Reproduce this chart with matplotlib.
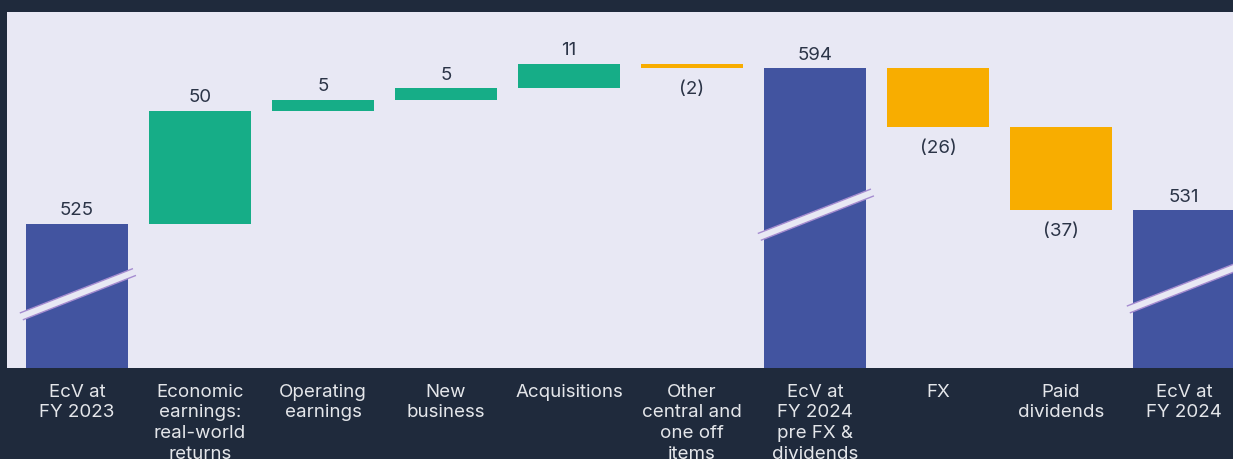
import matplotlib
matplotlib.use("Agg")
import matplotlib.pyplot as plt
from matplotlib.patches import Polygon

plt.rcParams['font.family'] = ['Inter', 'DejaVu Sans']

# Economic value bridge, FY 2023 -> FY 2024
categories = [
    "EcV at\nFY 2023",
    "Economic\nearnings:\nreal-world\nreturns",
    "Operating\nearnings",
    "New\nbusiness",
    "Acquisitions",
    "Other\ncentral and\none off\nitems",
    "EcV at\nFY 2024\npre FX &\ndividends",
    "FX",
    "Paid\ndividends",
    "EcV at\nFY 2024",
]
values = [525, 50, 5, 5, 11, -2, 594, -26, -37, 531]
is_total = [True, False, False, False, False, False, True, False, False, True]
value_labels = ["525", "50", "5", "5", "11", "(2)", "594", "(26)", "(37)", "531"]

DARK = "#1f2a3c"
PANEL = "#e8e8f4"
BLUE = "#4254a0"
GREEN = "#16ad87"
ORANGE = "#f8ad00"
TEXT_DARK = "#2b3447"
TEXT_LIGHT = "#e4e6ea"
BREAK_EDGE = "#a58cd0"
FS = 13.5

W, H = 1233, 460
fig = plt.figure(figsize=(W / 100, H / 100), dpi=100, facecolor=DARK)
ax = fig.add_axes([7 / W, (H - 369) / H, 1226 / W, 356 / H])
ax.set_facecolor(PANEL)

y_bottom, y_top = 461.3, 618.8
ax.set_xlim(-0.569, -0.569 + 1226 / 123)
ax.set_ylim(y_bottom, y_top)

bar_w = 102 / 123
running = 0
bars = []
for i, (v, tot) in enumerate(zip(values, is_total)):
    if tot:
        lo, hi, col = y_bottom, v, BLUE
        running = v
    else:
        start = running
        running = running + v
        lo, hi = min(start, running), max(start, running)
        col = GREEN if v > 0 else ORANGE
    ax.bar(i, hi - lo, bottom=lo, width=bar_w, color=col, zorder=2)
    bars.append((lo, hi))

    if v >= 0:
        ax.annotate(value_labels[i], (i, hi), xytext=(0, 4), textcoords="offset points",
                    ha="center", va="bottom", fontsize=FS, color=TEXT_DARK, zorder=4)
    else:
        ax.annotate(value_labels[i], (i, lo), xytext=(0, -8.5), textcoords="offset points",
                    ha="center", va="top", fontsize=FS, color=TEXT_DARK, zorder=4)

# axis-break bands across the total bars
px_x = 123.0
px_y = 356 / (y_top - y_bottom)
slope = (44 / 112) * px_x / px_y
half_gap = 4.0 / px_y
for i, tot in enumerate(is_total):
    if not tot:
        continue
    lo, hi = bars[i]
    yc = y_bottom + 0.51 * (hi - lo)
    xa, xb = i - 0.465, i + 0.455
    shift = 3 / px_x
    up_a = (xa, yc + half_gap + slope * (xa - i))
    up_b = (xb, yc + half_gap + slope * (xb - i))
    dn_a = (xa + shift, yc - half_gap + slope * (xa + shift - i))
    dn_b = (xb + shift, yc - half_gap + slope * (xb + shift - i))
    ax.add_patch(Polygon([up_a, up_b, dn_b, dn_a], closed=True, facecolor=PANEL,
                         edgecolor="none", zorder=3))
    ax.plot([up_a[0], up_b[0]], [up_a[1], up_b[1]], color=BREAK_EDGE, lw=1, zorder=3.5,
            solid_capstyle="butt")
    ax.plot([dn_a[0], dn_b[0]], [dn_a[1], dn_b[1]], color=BREAK_EDGE, lw=1, zorder=3.5,
            solid_capstyle="butt")

ax.set_xticks(range(len(categories)))
ax.set_xticklabels(categories, fontsize=FS, color=TEXT_LIGHT, linespacing=1.3)
ax.tick_params(axis="x", length=0, pad=10.5)
ax.set_yticks([])
for s in ax.spines.values():
    s.set_visible(False)

fig.savefig("out.png", dpi=100, facecolor=DARK)
